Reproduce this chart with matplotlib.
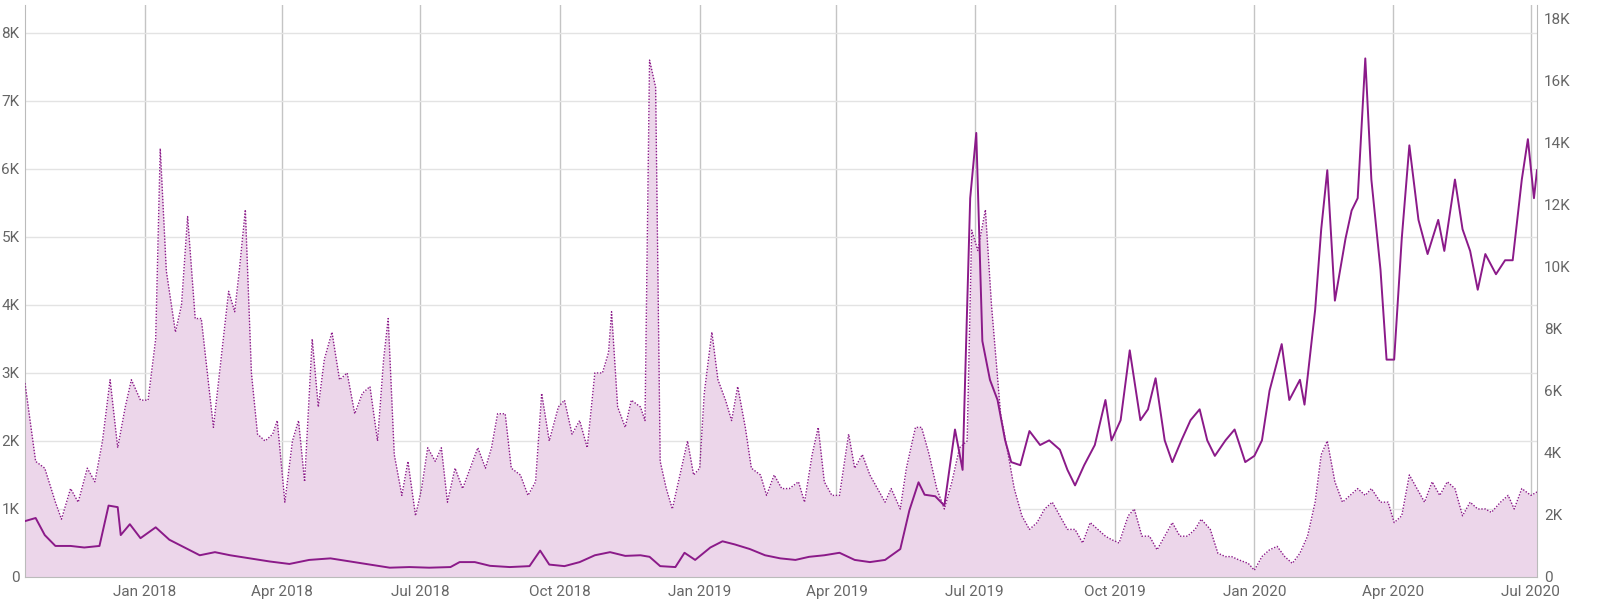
import matplotlib
matplotlib.use("Agg")
import matplotlib.pyplot as plt
import numpy as np
import pandas as pd

start = pd.Timestamp("2017-10-14")

fill_days = [0,7,13,20,24,30,35,41,46,51,56,61,66,70,76,81,86,89,93,99,103,107,112,116,120,124,128,134,138,141,145,149,153,158,163,166,171,176,180,184,189,193,197,202,207,212,217,222,227,232,236,239,243,248,252,257,261,265,270,274,278,283,288,293,298,303,307,311,316,320,326,331,336,340,345,351,355,360,365,370,375,380,384,386,390,395,399,405,408,411,415,418,422,426,431,436,440,444,447,452,456,461,465,469,474,478,484,488,493,498,503,509,513,518,522,526,531,536,542,546,551,556,561,566,570,576,580,586,590,595,600,605,610,615,620,623,627,632,636,642,647,651,656,661,666,671,676,681,686,691,696,701,706,711,715,720,726,730,735,740,745,750,755,760,765,770,774,780,785,790,794,799,805,809,814,819,824,829,834,839,844,849,853,857,862,867,872,877,882,886,892,897,901,906,911,916,921,926,931,936,941,946,951,956,961,965,971,976,980,985,991,995]
fill_vals = [2.85,1.7,1.6,1.1,0.85,1.3,1.1,1.6,1.4,2.0,2.9,1.9,2.5,2.9,2.6,2.6,3.5,6.3,4.5,3.6,4.0,5.3,3.8,3.8,3.0,2.2,3.0,4.2,3.9,4.5,5.4,3.0,2.1,2.0,2.1,2.3,1.1,2.0,2.3,1.4,3.5,2.5,3.2,3.6,2.9,3.0,2.4,2.7,2.8,2.0,3.2,3.8,1.8,1.2,1.7,0.9,1.3,1.9,1.7,1.9,1.1,1.6,1.3,1.6,1.9,1.6,1.9,2.4,2.4,1.6,1.5,1.2,1.4,2.7,2.0,2.5,2.6,2.1,2.3,1.9,3.0,3.0,3.3,3.9,2.5,2.2,2.6,2.5,2.3,7.6,7.2,1.7,1.3,1.0,1.5,2.0,1.5,1.6,2.7,3.6,2.9,2.6,2.3,2.8,2.2,1.6,1.5,1.2,1.5,1.3,1.3,1.4,1.1,1.8,2.2,1.4,1.2,1.2,2.1,1.6,1.8,1.5,1.3,1.1,1.3,1.0,1.6,2.2,2.2,1.8,1.3,1.0,1.4,1.9,2.0,5.1,4.8,5.4,4.0,2.4,1.8,1.3,0.9,0.7,0.8,1.0,1.1,0.9,0.7,0.7,0.5,0.8,0.7,0.6,0.55,0.5,0.9,1.0,0.6,0.6,0.4,0.6,0.8,0.6,0.6,0.7,0.85,0.7,0.35,0.3,0.3,0.25,0.2,0.1,0.3,0.4,0.45,0.3,0.2,0.35,0.6,1.1,1.8,2.0,1.4,1.1,1.2,1.3,1.2,1.3,1.1,1.1,0.8,0.9,1.5,1.3,1.1,1.4,1.2,1.4,1.3,0.9,1.1,1.0,1.0,0.95,1.1,1.2,1.0,1.3,1.2,1.25]

line_days = [0,7,13,20,30,39,49,55,61,63,69,76,86,95,105,115,125,135,148,161,174,187,201,214,227,240,253,266,280,286,296,306,319,332,339,345,355,365,375,385,395,405,411,418,428,434,441,451,459,467,477,487,497,507,516,526,536,546,556,566,576,582,588,592,599,605,612,617,622,626,630,635,640,645,649,655,661,668,674,681,686,691,697,704,711,715,721,727,734,739,744,750,755,761,767,773,778,783,790,796,803,809,814,819,827,832,839,842,849,853,857,862,869,873,877,882,886,892,896,901,906,911,917,923,930,934,941,946,951,956,961,968,974,979,985,989,993,995]
line_vals = [1.8,1.9,1.35,1.0,1.0,0.95,1.0,2.3,2.25,1.35,1.7,1.25,1.6,1.2,0.95,0.7,0.8,0.7,0.6,0.5,0.42,0.55,0.6,0.5,0.4,0.3,0.32,0.3,0.32,0.48,0.48,0.36,0.32,0.35,0.85,0.4,0.35,0.48,0.7,0.8,0.68,0.7,0.65,0.35,0.32,0.78,0.55,0.95,1.15,1.05,0.9,0.7,0.6,0.55,0.65,0.7,0.78,0.55,0.48,0.55,0.9,2.15,3.05,2.65,2.6,2.3,4.75,3.45,12.2,14.3,7.6,6.35,5.7,4.4,3.7,3.6,4.7,4.25,4.4,4.1,3.45,2.95,3.6,4.25,5.7,4.4,5.05,7.3,5.05,5.4,6.4,4.4,3.7,4.4,5.05,5.4,4.4,3.9,4.4,4.75,3.7,3.9,4.4,6.0,7.5,5.7,6.35,5.55,8.6,11.2,13.1,8.9,10.9,11.8,12.2,16.7,12.8,9.9,7.0,7.0,10.9,13.9,11.5,10.4,11.5,10.5,12.8,11.2,10.5,9.25,10.4,9.75,10.2,10.2,12.8,14.1,12.2,13.1]

month_ticks = ["2018-01-01","2018-04-01","2018-07-01","2018-10-01","2019-01-01","2019-04-01","2019-07-01","2019-10-01","2020-01-01","2020-04-01","2020-07-01"]
month_labels = ["Jan 2018","Apr 2018","Jul 2018","Oct 2018","Jan 2019","Apr 2019","Jul 2019","Oct 2019","Jan 2020","Apr 2020","Jul 2020"]
left_ticks = [0,1,2,3,4,5,6,7,8]
left_labels = ["0","1K","2K","3K","4K","5K","6K","7K","8K"]
right_ticks = [0,2,4,6,8,10,12,14,16,18]
right_labels = ["0","2K","4K","6K","8K","10K","12K","14K","16K","18K"]

plt.rcParams['font.family'] = ['Roboto', 'DejaVu Sans']
fd = start + pd.to_timedelta(fill_days, unit="D")
ld = start + pd.to_timedelta(line_days, unit="D")

fig = plt.figure(figsize=(16, 6.11), dpi=100)
ax = fig.add_axes([25/1600, 34/611, 1512/1600, 572/611])
ax2 = ax.twinx()

purple = "#8b1a89"
ax.fill_between(fd, fill_vals, 0, color="#ecd6ea", lw=0, zorder=2)
ax.plot(fd, fill_vals, color=purple, lw=1.0, ls=(0, (1, 1.2)), zorder=3)
ax2.plot(ld, line_vals, color=purple, lw=1.4, zorder=4)

ax.set_xlim(start, start + pd.Timedelta(days=995))
ax.set_ylim(0, 8.41)
ax2.set_ylim(0, 18.42)
ax.set_yticks(left_ticks)
ax.set_yticklabels(left_labels)
ax2.set_yticks(right_ticks)
ax2.set_yticklabels(right_labels)
ax.set_xticks(pd.to_datetime(month_ticks))
ax.set_xticklabels(month_labels)

ax.grid(axis="y", color="#e3e3e3", lw=1, zorder=0)
ax.grid(axis="x", color="#c4c4c4", lw=1, zorder=0)
ax.set_axisbelow(True)
for a in (ax, ax2):
    for s in a.spines.values():
        s.set_visible(False)
    a.tick_params(length=0, labelsize=11, colors="#666666")
ax.spines["bottom"].set_visible(True)
ax.spines["bottom"].set_color("#bbbbbb")
ax2.spines["right"].set_visible(True)
ax2.spines["right"].set_color("#bbbbbb")
ax.spines["left"].set_visible(True)
ax.spines["left"].set_color("#bbbbbb")
ax.tick_params(axis="y", pad=4)
ax.tick_params(axis="x", pad=6)
ax2.tick_params(axis="y", pad=5)

fig.savefig("out.png", dpi=100)
